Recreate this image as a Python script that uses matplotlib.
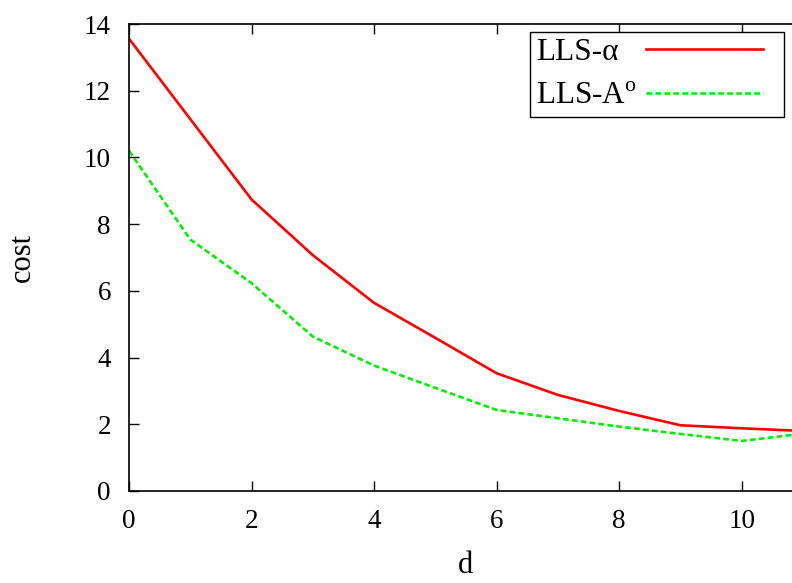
import matplotlib
matplotlib.use("Agg")
import matplotlib.pyplot as plt
from matplotlib.legend_handler import HandlerLine2D

d = [0, 1, 2, 3, 4, 5, 6, 7, 8, 9, 10, 11]
lls_alpha = [13.56, 11.15, 8.74, 7.07, 5.64, 4.59, 3.53, 2.88, 2.40, 1.97, 1.88, 1.80]
lls_ao = [10.20, 7.54, 6.23, 4.63, 3.76, 3.09, 2.43, 2.18, 1.93, 1.71, 1.50, 1.72]
labels = ["LLS-\u03b1", "LLS-A$^\\mathrm{o}$"]

plt.rcParams['font.family'] = ['Liberation Serif', 'DejaVu Serif']
plt.rcParams['mathtext.fontset'] = 'custom'
plt.rcParams['mathtext.rm'] = 'Liberation Serif'
plt.rcParams['font.size'] = 19.5

W, H = 792, 583
fig = plt.figure(figsize=(W/100, H/100), dpi=100)
left = 129 / W
bottom = (H - 491) / H
height = (491 - 24) / H
width = 11 * 61.27 / W
ax = fig.add_axes([left, bottom, width, height])

ax.plot(d, lls_alpha, color='#ff0000', lw=1.9, label=labels[0])
ax.plot(d, lls_ao, color='#00f000', lw=1.9, ls=(0, (2.2, 1.2)), label=labels[1])

ax.set_xlim(0, 11)
ax.set_ylim(0, 14)
ax.set_xticks([0, 2, 4, 6, 8, 10])
ax.set_yticks([0, 2, 4, 6, 8, 10, 12, 14])
ax.tick_params(direction='in', length=7, width=1, top=True, right=True)
ax.tick_params(axis='y', pad=13)
ax.tick_params(axis='x', pad=13)
for s in ax.spines.values():
    s.set_linewidth(1.2)

ax.set_xlabel('d', fontsize=22, labelpad=12)
ax.set_ylabel('cost', fontsize=22, labelpad=34)


class ShortLine(HandlerLine2D):
    def __init__(self, trim_px, **kw):
        super().__init__(**kw)
        self.trim_px = trim_px

    def get_xdata(self, legend, xdescent, ydescent, width, height, fontsize):
        xd, xm = super().get_xdata(legend, xdescent, ydescent, width, height, fontsize)
        xd = [xd[0], xd[-1] - self.trim_px]
        return xd, xm


LEG_FS = 22.5
fs_px = LEG_FS * 100 / 72
trim = 15
handle_px = 117 + trim
leg = ax.legend(loc='upper right', bbox_to_anchor=(784 / W, 1 - 32 / H),
                bbox_transform=fig.transFigure, markerfirst=False,
                fontsize=LEG_FS,
                handlelength=handle_px / fs_px, fancybox=False, framealpha=1,
                edgecolor='black', borderpad=0.18, labelspacing=0.5,
                handletextpad=0.3, borderaxespad=0,
                handler_map={matplotlib.lines.Line2D: ShortLine(trim * 72 / 100)})
leg.get_frame().set_linewidth(1.0)

# left-align label texts (gnuplot style)
fig.canvas.draw()
r = fig.canvas.get_renderer()
widths = [t.get_window_extent(r).width for t in leg.get_texts()]
maxw = max(widths)
col = leg._legend_handle_box.get_children()[0]
base_sep = 0.3 * LEG_FS
for item, w in zip(col.get_children(), widths):
    item.sep = base_sep + (maxw - w) * 72 / 100

fig.savefig('out.png', dpi=100)
